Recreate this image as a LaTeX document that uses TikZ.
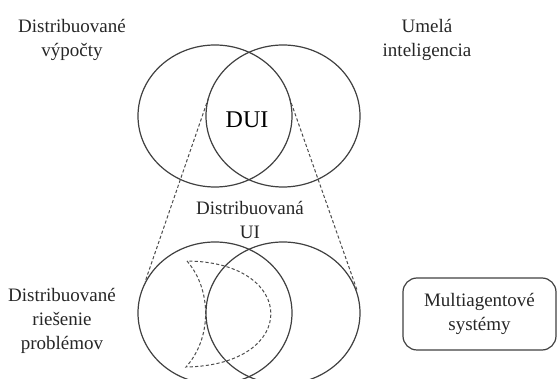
\documentclass[tikz,border=0pt]{standalone}
\usepackage{fontspec}
\setmainfont{Liberation Serif}
\usepackage{tikz}

\begin{document}
\begin{tikzpicture}[x=0.5pt,y=-0.5pt,
  ring/.style={draw=black!75,line width=0.6pt},
  guide/.style={draw=black!70,line width=0.5pt,dash pattern=on 1.6pt off 1.1pt},
  label/.style={align=center,font=\fontsize{9.5}{12}\selectfont,text=black!85}]
\useasboundingbox (0,0) rectangle (558,379);
% upper pair
\draw[ring] (215,116) ellipse [x radius=77,y radius=71];
\draw[ring] (283,116) ellipse [x radius=77,y radius=71];
\node[font=\fontsize{12}{14}\selectfont] (dui) at (247,120) {DUI};
\node[label] (vypocty) at (72,40) {Distribuované\\výpočty};
\node[label] (inteligencia) at (427,40) {Umelá\\inteligencia};
% lower pair
\draw[ring] (215,313) ellipse [x radius=77,y radius=71];
\draw[ring] (283,313) ellipse [x radius=77,y radius=71];
\node[label] (dui2) at (250,220) {Distribuovaná\\UI};
\node[label] (riesenie) at (62,321) {Distribuované\\riešenie\\problémov};
\draw[guide] (187,261) .. controls (212,290) and (212,338) .. (186,367)
  .. controls (300,365) and (298,262) .. cycle;
\node[label,draw=black!75,line width=0.6pt,rounded corners=7pt,
  minimum width=153pt/2,minimum height=72pt/2] (mas) at (479.5,314) {Multiagentové\\systémy};
% zoom lines
\coordinate (lt) at (208.5,98);
\coordinate (rt) at (289.5,98);
\coordinate (lb) at (145,282);
\coordinate (rb) at (357,290);
\draw[guide] (lt) -- (lb);
\draw[guide] (rt) -- (rb);
\end{tikzpicture}
\end{document}
